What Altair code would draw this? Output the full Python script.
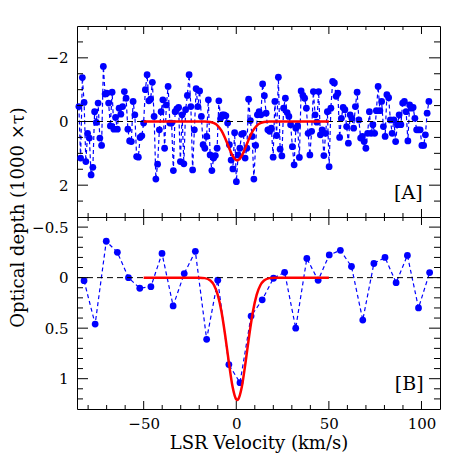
import altair as alt
import pandas as pd

# ---------------- data ----------------
# Top panel [A]: optical depth (1000 x tau) per channel
TOP_V_FIRST = -85.0
TOP_V_STEP = 0.945
TOP_TAU = [
    -0.47, 1.15, -1.38, -0.60, 1.26, 0.37, 0.52, 1.68, 1.44, -0.31,
    0.03, -0.58, 0.52, 0.75, -1.73, -0.86, -0.89, -0.58, 0.14, -0.92,
    0.24, -0.13, 0.24, -0.42, -0.23, -0.47, -0.94, -0.73, 0.24, 0.61,
    0.63, -0.63, -0.21, 1.10, 1.12, 0.50, 0.45, 0.05, -1.00, -1.47,
    -0.65, -0.70, -1.23, -0.16, 1.81, 1.34, 0.26, -0.31, -0.68, 0.84,
    -0.52, -1.10, 0.05, 0.05, 1.54, -0.31, -0.40, -0.44, 1.26, -0.21,
    1.33, -0.37, -0.82, -1.47, -0.47, 1.52, 0.26, -1.03, -0.47, -0.96,
    -0.16, 0.73, 0.84, 0.47, -0.68, 1.05, 1.54, 1.15, 1.07, 0.84,
    -0.65, -0.10, -0.21, -0.21, -0.18, 0.05, 0.73, 1.21, 1.49, 0.35,
    1.89,
    1.05, 0.84, 0.40, 0.37, 1.15, 0.84, -0.70, -0.03, 0.47, 1.81,
    0.75, -0.21, -0.31, -0.21, -1.18, -0.81, -0.26, 0.26, 0.31, 0.21,
    1.12, -0.63, 0.44, -1.39, 0.87, 1.08, -0.42, -0.73, -0.28, -0.16,
    0.10, 0.79, 1.36, 0.21, 0.13, 1.13, -0.96, -0.82, -0.73, -0.42,
    0.37, 1.05, 0.31, -0.94, -0.21, 0.02, -0.94, 0.42, 0.26, 1.07,
    0.37, -0.31, 1.42, -0.42, -1.26, -1.21, -0.79, -0.89, 0.50, -0.10,
    -0.44, -0.37, 0.16, 0.68, -0.21, -0.10, 0.21, -0.47, -0.92, -0.05,
    0.52, 0.47, 0.63, 0.84, 0.37, -0.31, 0.37, 0.10, 0.37, -0.34,
    -1.10, -0.34, -0.63, 0.16, 0.47, -0.84, -0.75, -0.05, 0.37, -0.05,
    0.63, 0.10, -0.21, 0.10, -0.58, -0.63, -0.31, 0.61, -0.52, -0.42,
    -0.44, -0.10, 0.26, 0.26, 0.26, 0.75, 0.75, 0.42, -0.26, -0.63,
]
TOP_V = [round(TOP_V_FIRST + i * TOP_V_STEP, 3) for i in range(len(TOP_TAU))]

# Bottom panel [B]: optical depth (smoothed channels)
BOT_V = [-82.2, -76.2, -70.2, -64.2, -58.2, -52.1, -46.1, -40.1, -34.1, -28.1,
         -22.1, -16.0, -10.0, -4.0, 2.0, 8.0, 14.0, 20.1, 26.1, 32.1,
         38.1, 44.2, 50.2, 56.2, 62.2, 68.3, 74.3, 80.3, 86.3, 92.4,
         98.4, 104.4]
BOT_TAU = [0.03, 0.46, -0.36, -0.25, 0.0, 0.105, 0.09, -0.24, 0.28, -0.04,
           -0.26, 0.61, 0.026, 0.86, 1.04, 0.38, 0.22, 0.006, -0.053, 0.50,
           -0.19, 0.026, -0.225, -0.27, -0.11, 0.42, -0.14, -0.20, 0.05, -0.22,
           0.30, -0.05]

# Red fitted curves
FIT_V = [-50, -25, -20, -17, -14, -12, -10, -8, -6, -4, -2, 0, 0.5, 1, 3, 5,
         7, 9, 11, 13, 15, 18, 21, 26, 50]
FIT_TOP = [0, 0, 0, 0.003, 0.018, 0.054, 0.134, 0.288, 0.524, 0.814, 1.076,
           1.214, 1.22, 1.214, 1.076, 0.814, 0.524, 0.288, 0.134, 0.054, 0.018,
           0.003, 0, 0, 0]
FIT_BOT = [0, 0, 0.001, 0.005, 0.029, 0.075, 0.17, 0.335, 0.57, 0.84, 1.08,
           1.205, 1.21, 1.205, 1.08, 0.84, 0.57, 0.335, 0.17, 0.075, 0.029,
           0.005, 0.001, 0, 0]

X_DOMAIN = [-86, 110]
X_MAJOR = [-50, 0, 50, 100]
X_MINOR = [-80, -70, -60, -40, -30, -20, -10, 10, 20, 30, 40, 60, 70, 80, 90]

TOP_Y_DOMAIN = [-3, 3]
TOP_Y_MAJOR = [-2, 0, 2]
TOP_Y_MINOR = [-2.5, -1.5, -1, -0.5, 0.5, 1, 1.5, 2.5]

BOT_Y_DOMAIN = [-0.6, 1.3]
BOT_Y_MAJOR = [-0.5, 0, 0.5, 1]
BOT_Y_MINOR = [-0.4, -0.3, -0.2, -0.1, 0.1, 0.2, 0.3, 0.4, 0.6, 0.7, 0.8, 0.9,
               1.1, 1.2]

PANEL_LABELS = ["[A]", "[B]"]
LABEL_V = [92.9, 93.4]
LABEL_TAU = [2.26, 1.05]

FONT = "DejaVu Serif"
W = 363
X_MAJ_LEN, X_MIN_LEN = 8, 4
Y_MAJ_LEN, Y_MIN_LEN = 11, 6


def panel(v, tau, fit, ydom, ymaj, ymin, label, lv, lt, height, bottom):
    xs = alt.Scale(domain=X_DOMAIN, nice=False, zero=False)
    ys = alt.Scale(domain=ydom, nice=False, zero=False, reverse=True)
    obs = pd.DataFrame({"v": v, "tau": tau})
    fitdf = pd.DataFrame({"v": FIT_V, "tau": fit})
    zero = pd.DataFrame({"v": [X_DOMAIN[0]], "v2": [X_DOMAIN[1]], "tau": [0]})
    lab = pd.DataFrame({"v": [lv], "tau": [lt], "t": [label]})

    # inward ticks: tick marks centred on the frame edges, clipped to the frame
    xt = []
    for edge in ydom:
        xt += [{"v": t, "tau": edge, "len": 2 * X_MAJ_LEN} for t in X_MAJOR]
        xt += [{"v": t, "tau": edge, "len": 2 * X_MIN_LEN} for t in X_MINOR]
    yt = []
    for edge in X_DOMAIN:
        yt += [{"v": edge, "tau": t, "len": 2 * Y_MAJ_LEN} for t in ymaj]
        yt += [{"v": edge, "tau": t, "len": 2 * Y_MIN_LEN} for t in ymin]

    if bottom:
        x_axis = alt.Axis(values=X_MAJOR, ticks=False, domain=False, grid=False,
                          labelPadding=7, title="LSR Velocity (km/s)",
                          titlePadding=3)
        y_axis = alt.Axis(values=ymaj, ticks=False, domain=False, grid=False,
                          labelPadding=9, format="~g", title=None)
    else:
        x_axis = None
        y_axis = alt.Axis(values=ymaj, ticks=False, domain=False, grid=False,
                          labelPadding=9, format="~g",
                          title="Optical depth (1000 \u00d7\u03c4)",
                          titleX=-50, titleY=height, titleAngle=270,
                          titleAlign="center", titleBaseline="bottom")

    def X():
        return alt.X("v:Q", scale=xs, axis=x_axis)

    def Y():
        return alt.Y("tau:Q", scale=ys, axis=y_axis)

    line = alt.Chart(obs).mark_line(color="#0000ff", strokeDash=[4, 3],
                                    strokeWidth=1.2).encode(x=X(), y=Y())

    pts = alt.Chart(obs).mark_circle(color="#0000ff", opacity=1, size=46).encode(
        x=X(), y=Y())

    zrule = alt.Chart(zero).mark_rule(color="black", strokeDash=[6, 4],
                                      strokeWidth=1).encode(
        x=X(), x2="v2:Q", y=Y())

    red = alt.Chart(fitdf).mark_line(color="#ff0000", strokeWidth=2.5,
                                     interpolate="monotone").encode(
        x=X(), y=Y())

    txt = alt.Chart(lab).mark_text(font=FONT, fontSize=19, color="black",
                                   align="center", baseline="middle").encode(
        x=X(), y=Y(), text="t:N")

    xticks = alt.Chart(pd.DataFrame(xt)).mark_tick(
        orient="vertical", color="black", thickness=1, clip=True, opacity=1
    ).encode(x=X(), y=Y(), size=alt.Size("len:Q", scale=None, legend=None))

    yticks = alt.Chart(pd.DataFrame(yt)).mark_tick(
        orient="horizontal", color="black", thickness=1, clip=True, opacity=1
    ).encode(x=X(), y=Y(), size=alt.Size("len:Q", scale=None, legend=None))

    return alt.layer(line, pts, zrule, red, txt, xticks, yticks).properties(
        width=W, height=height)


top = panel(TOP_V, TOP_TAU, FIT_TOP, TOP_Y_DOMAIN, TOP_Y_MAJOR, TOP_Y_MINOR,
            PANEL_LABELS[0], LABEL_V[0], LABEL_TAU[0], 191, False)
bot = panel(BOT_V, BOT_TAU, FIT_BOT, BOT_Y_DOMAIN, BOT_Y_MAJOR, BOT_Y_MINOR,
            PANEL_LABELS[1], LABEL_V[1], LABEL_TAU[1], 192, True)

chart = alt.vconcat(top, bot, spacing=0, bounds="flush").properties(
    padding={"left": 0, "top": 17, "right": 0, "bottom": 0}
).configure_view(stroke="black", strokeWidth=1).configure_axis(
    labelFont=FONT, titleFont=FONT, labelFontSize=15, titleFontSize=18,
    labelColor="black", titleColor="black", titleFontWeight="normal",
    tickColor="black")

chart.save("out.html", embed_options={"renderer": "svg", "actions": False})
